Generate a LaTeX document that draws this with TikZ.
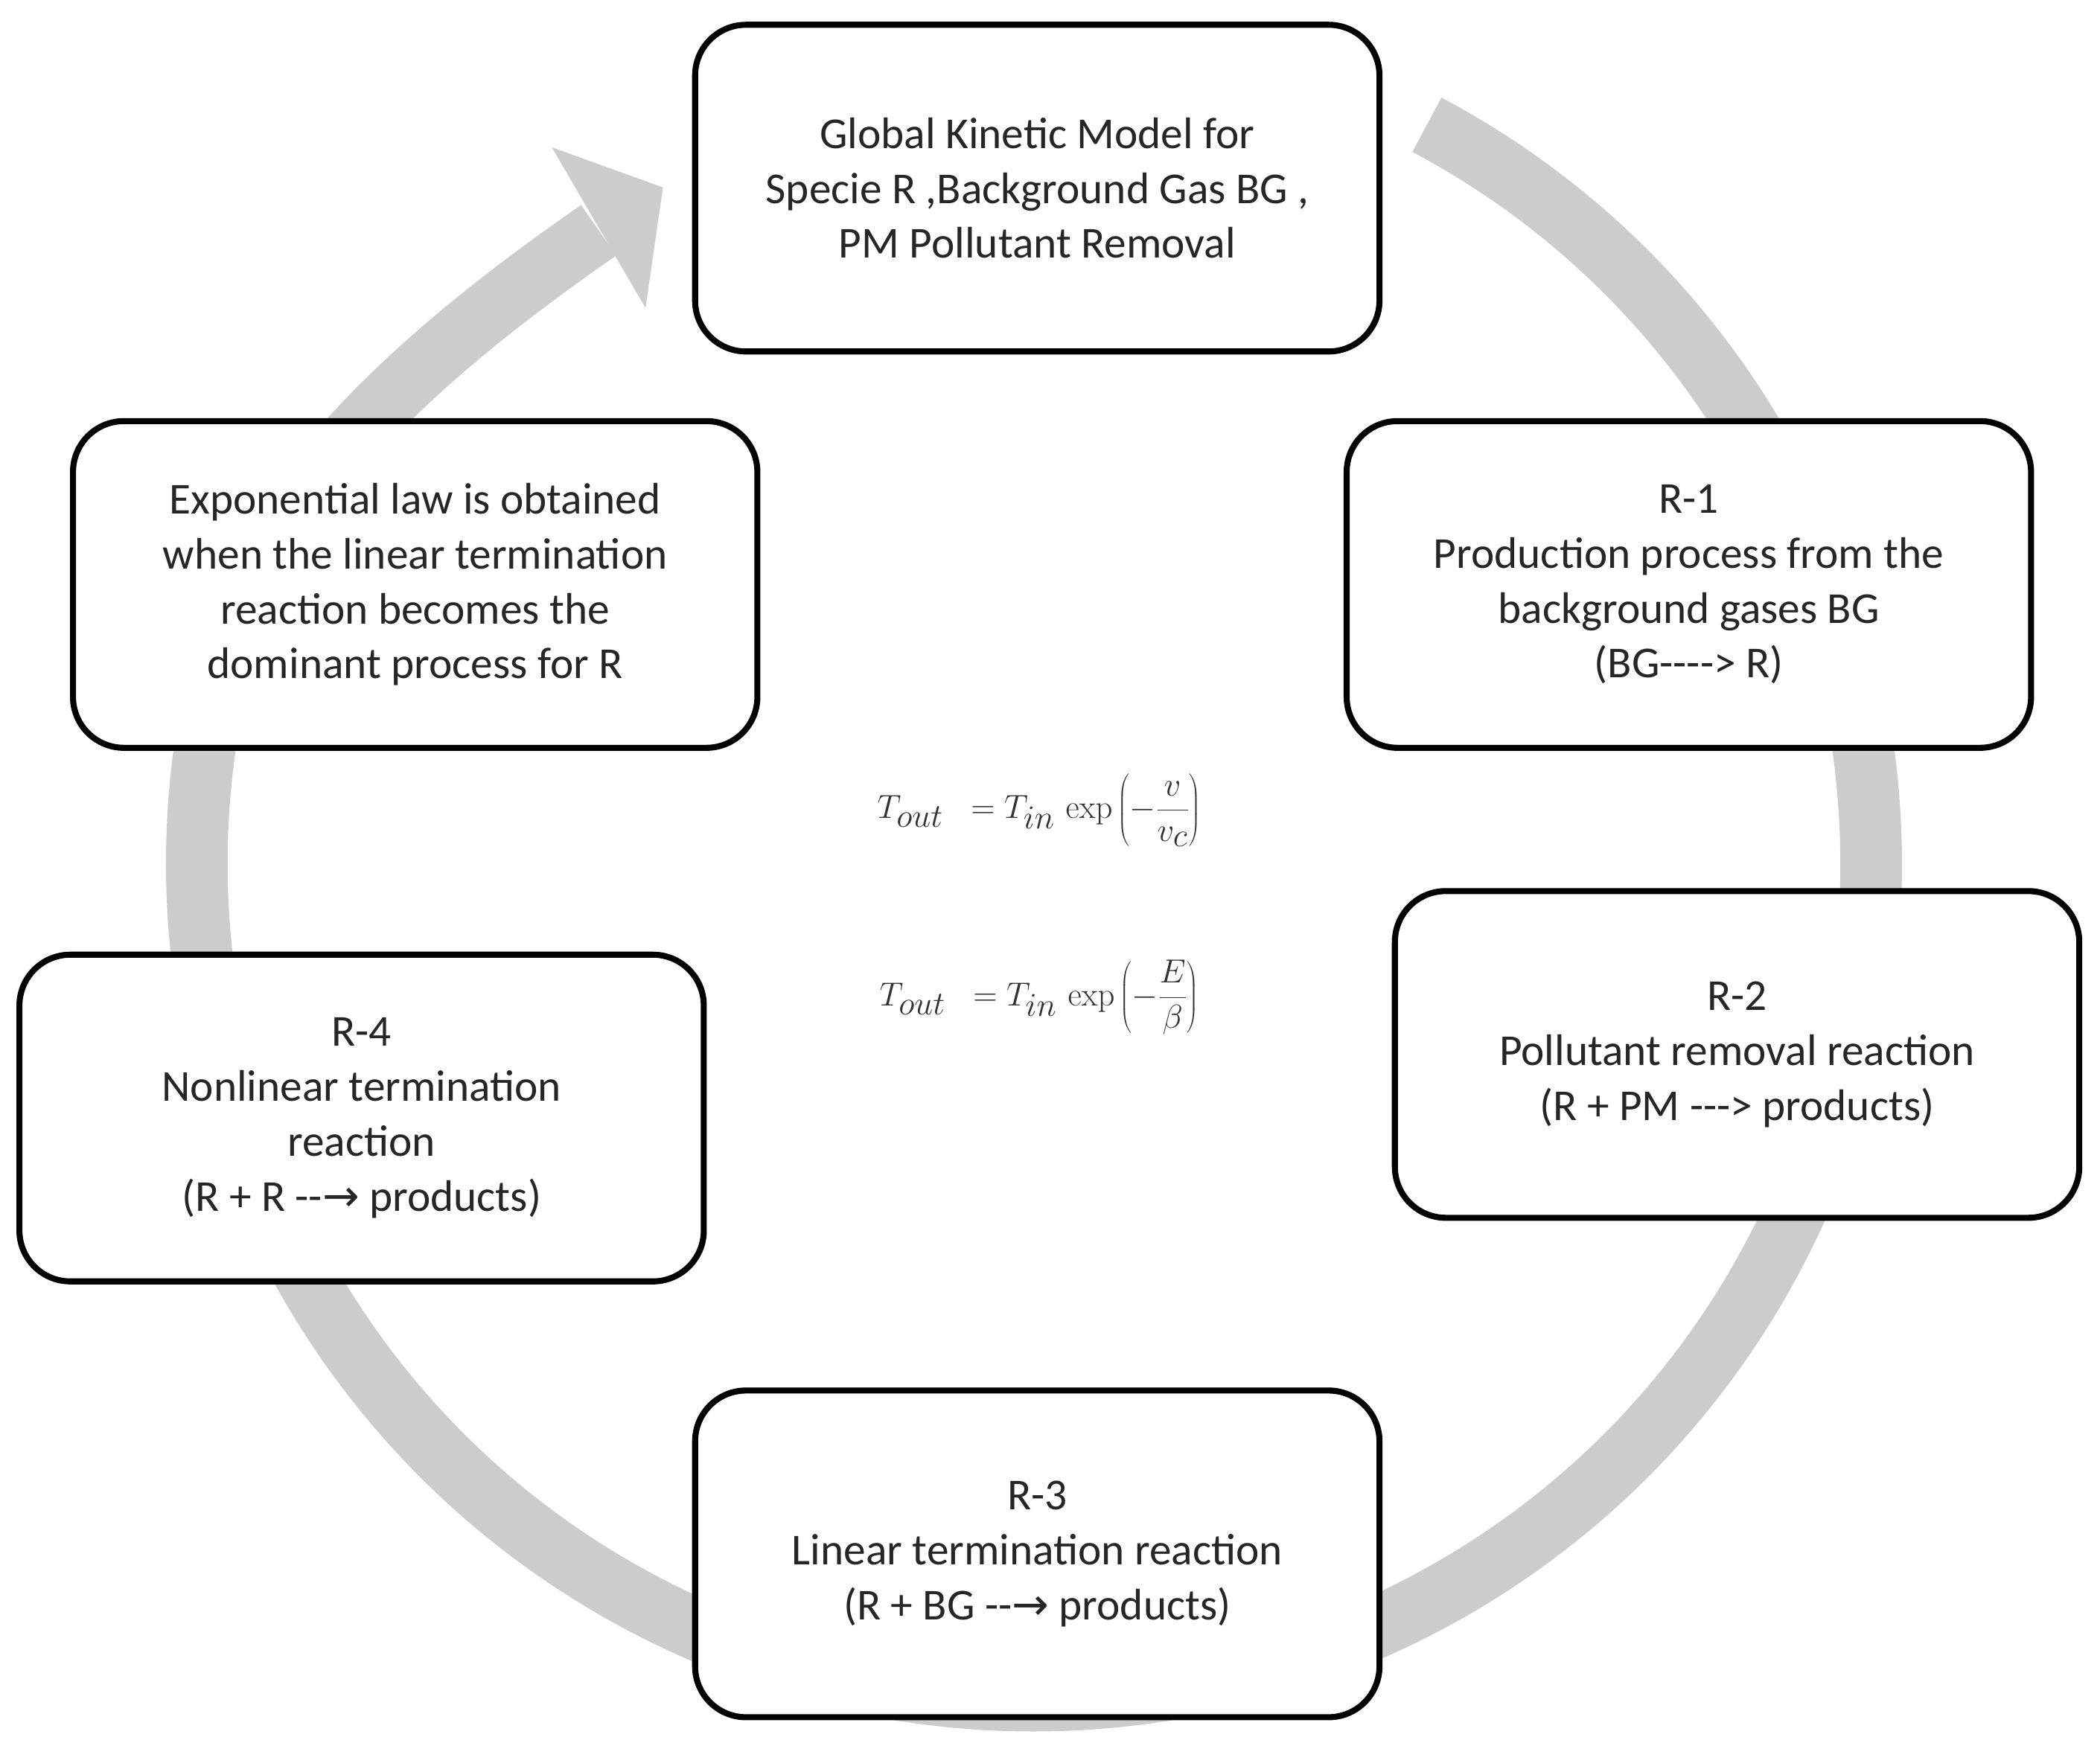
\documentclass[tikz,border=0pt]{standalone}
\usepackage[no-math]{fontspec}
\setmainfont{Carlito}
\newfontfamily\arrowfont{DejaVu Sans}
\begin{document}
\begin{tikzpicture}[x=1pt,y=1pt,
  box/.style={draw=black,line width=4.5pt,rounded corners=38pt,fill=white,minimum width=511pt,minimum height=244pt,align=center,text=black!85,font=\fontsize{33}{41}\selectfont,inner sep=0pt},
  ring/.style={draw=black!20,line width=46pt},
  eq/.style={font=\fontsize{36}{42}\selectfont,text=black!80}]
\useasboundingbox (0,0) rectangle (1568,-1299);
\coordinate (c) at (772,-645);
\coordinate (b) at (447,-172);
\draw[ring] ([shift={(62:625)}]c) arc[start angle=62,end angle=-195,radius=625]
  .. controls (205,-351) and (349,-240) .. (b);
\fill[black!20] (412,-110) -- (495,-140) -- (482,-230) -- cycle;
\node[box] (top) at (774.5,-140.5) {Global Kinetic Model for\\Specie R ,Background Gas BG ,\\PM Pollutant Removal};
\node[box] (r1) at (1261,-436.5) {R-1\\Production process from the\\background gases BG\\(BG-{}-{}-{}-> R)};
\node[box] (r2) at (1297,-787.5) {R-2\\Pollutant removal reaction\\(R + PM -{}-{}-> products)};
\node[box] (r3) at (774.5,-1160.5) {R-3\\Linear termination reaction\\(R + BG -{}-{\arrowfont→} products)};
\node[box] (r4) at (270,-835) {R-4\\Nonlinear termination\\reaction\\(R + R -{}-{\arrowfont→} products)};
\node[box] (exp) at (310,-436.5) {Exponential law is obtained\\when the linear termination\\reaction becomes the\\dominant process for R};
\node[eq] (e1) at (776,-605) {$\displaystyle T_{out}\;\;=T_{in}\,\exp\left(-\frac{v}{v_c}\right)$};
\node[eq] (e2) at (776,-745) {$\displaystyle T_{out}\;\;=T_{in}\,\exp\left(-\frac{E}{\beta}\right)$};
\end{tikzpicture}
\end{document}
